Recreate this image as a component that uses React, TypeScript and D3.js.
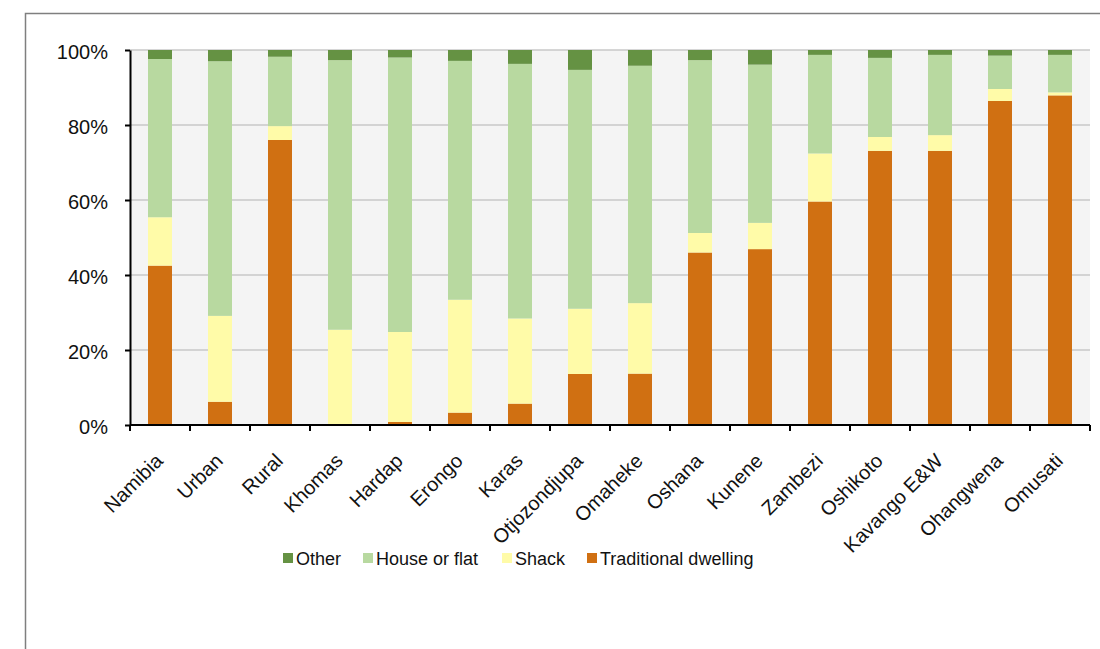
import * as d3 from "d3";
import React, { useEffect, useRef } from "react";

// categories (x axis)
const regions = [
  "Namibia",
  "Urban",
  "Rural",
  "Khomas",
  "Hardap",
  "Erongo",
  "Karas",
  "Otjozondjupa",
  "Omaheke",
  "Oshana",
  "Kunene",
  "Zambezi",
  "Oshikoto",
  "Kavango E&W",
  "Ohangwena",
  "Omusati",
];

// series values, percent of households
const traditional = [42.5, 6.2, 76.0, 0.2, 0.8, 3.3, 5.7, 13.6, 13.7, 46.0, 46.9, 59.6, 73.1, 73.1, 86.4, 87.9];
const shack = [12.9, 22.9, 3.7, 25.2, 24.0, 30.1, 22.7, 17.4, 18.8, 5.2, 7.0, 12.8, 3.7, 4.2, 3.2, 0.8];
const house = [42.2, 67.9, 18.5, 71.9, 73.2, 63.7, 67.9, 63.7, 63.3, 46.1, 42.2, 26.3, 21.1, 21.4, 8.9, 10.0];
const other = [2.4, 3.0, 1.8, 2.7, 2.0, 2.9, 3.7, 5.3, 4.2, 2.7, 3.9, 1.3, 2.1, 1.3, 1.5, 1.3];

const yTicks = [0, 20, 40, 60, 80, 100];

// stacking order bottom -> top
const seriesKeys = ["Traditional dwelling", "Shack", "House or flat", "Other"];
const legendKeys = ["Other", "House or flat", "Shack", "Traditional dwelling"];

const colors = {
  Other: "#659243",
  "House or flat": "#b8d9a0",
  Shack: "#fffba8",
  "Traditional dwelling": "#d07012",
};

const App = () => {
  const ref = useRef(null);

  useEffect(() => {
    document.body.style.margin = "0";
    const W = 1100;
    const H = 649;
    const margin = { top: 50, right: 10, bottom: 224, left: 130 };
    const width = W - margin.left - margin.right;
    const height = H - margin.top - margin.bottom;
    const font = "'Liberation Sans', Arial, sans-serif";

    d3.select(ref.current).selectAll("*").remove();

    const root = d3
      .select(ref.current)
      .append("svg")
      .attr("width", W)
      .attr("height", H)
      .style("display", "block");

    // outer frame (only top and left edges visible)
    root
      .append("path")
      .attr("d", `M25.5,${H} L25.5,13.5 L${W},13.5`)
      .attr("fill", "none")
      .attr("stroke", "#7f7f7f")
      .attr("stroke-width", 1.5);

    const svg = root.append("g").attr("transform", `translate(${margin.left},${margin.top})`);

    const table = regions.map((r, i) => ({
      region: r,
      "Traditional dwelling": traditional[i],
      Shack: shack[i],
      "House or flat": house[i],
      Other: other[i],
    }));

    const x = d3.scaleBand().domain(regions).range([0, width]).paddingInner(0.6).paddingOuter(0.3);
    const y = d3.scaleLinear().domain([0, 100]).range([height, 0]);

    // plot background
    svg.append("rect").attr("width", width).attr("height", height).attr("fill", "#f4f4f4");

    // gridlines
    svg
      .append("g")
      .selectAll("line")
      .data(yTicks.filter((t) => t > 0))
      .enter()
      .append("line")
      .attr("x1", 0)
      .attr("x2", width)
      .attr("y1", (d) => y(d))
      .attr("y2", (d) => y(d))
      .attr("stroke", "#c8c8c8")
      .attr("stroke-width", 1.5);

    // stacked bars
    const stacked = d3.stack().keys(seriesKeys)(table);
    svg
      .append("g")
      .selectAll("g")
      .data(stacked)
      .enter()
      .append("g")
      .attr("fill", (s) => colors[s.key])
      .selectAll("rect")
      .data((s) => s)
      .enter()
      .append("rect")
      .attr("x", (d) => x(d.data.region))
      .attr("width", x.bandwidth())
      .attr("y", (d) => y(d[1]))
      .attr("height", (d) => Math.max(0, y(d[0]) - y(d[1])));

    // y axis
    const yAxis = svg
      .append("g")
      .call(
        d3
          .axisLeft(y)
          .tickValues(yTicks)
          .tickSize(5)
          .tickSizeOuter(0)
          .tickPadding(17)
          .tickFormat((d) => `${d}%`)
      );
    yAxis.selectAll("path, line").attr("stroke", "#000").attr("stroke-width", 2);
    yAxis
      .selectAll("text")
      .attr("font-family", font)
      .attr("font-size", 20)
      .attr("dy", "0.4em")
      .attr("fill", "#111");

    // x axis: ticks at band boundaries
    const xAxis = svg.append("g").attr("transform", `translate(0,${height})`);
    xAxis
      .append("line")
      .attr("x1", 0)
      .attr("x2", width)
      .attr("stroke", "#000")
      .attr("stroke-width", 2);
    const step = x.step();
    xAxis
      .selectAll(".tk")
      .data(d3.range(regions.length + 1))
      .enter()
      .append("line")
      .attr("class", "tk")
      .attr("x1", (i) => i * step)
      .attr("x2", (i) => i * step)
      .attr("y1", 0)
      .attr("y2", 6)
      .attr("stroke", "#000")
      .attr("stroke-width", 2);
    xAxis
      .selectAll("text")
      .data(regions)
      .enter()
      .append("text")
      .attr("transform", (d) => `translate(${x(d) + x.bandwidth() / 2 - 6},${27}) rotate(-45)`)
      .attr("text-anchor", "end")
      .attr("dy", "0.71em")
      .attr("font-family", font)
      .attr("font-size", 20)
      .attr("fill", "#111")
      .text((d) => d);

    // legend
    const legendPos = [283, 363, 502, 587];
    const legend = root.append("g");
    legendKeys.forEach((k, i) => {
      legend
        .append("rect")
        .attr("x", legendPos[i])
        .attr("y", 553)
        .attr("width", 10)
        .attr("height", 10)
        .attr("fill", colors[k]);
      legend
        .append("text")
        .attr("x", legendPos[i] + 13)
        .attr("y", 565)
        .attr("font-family", font)
        .attr("font-size", 18)
        .attr("fill", "#111")
        .text(k);
    });
  }, []);

  return <div ref={ref} />;
};

export default App;
